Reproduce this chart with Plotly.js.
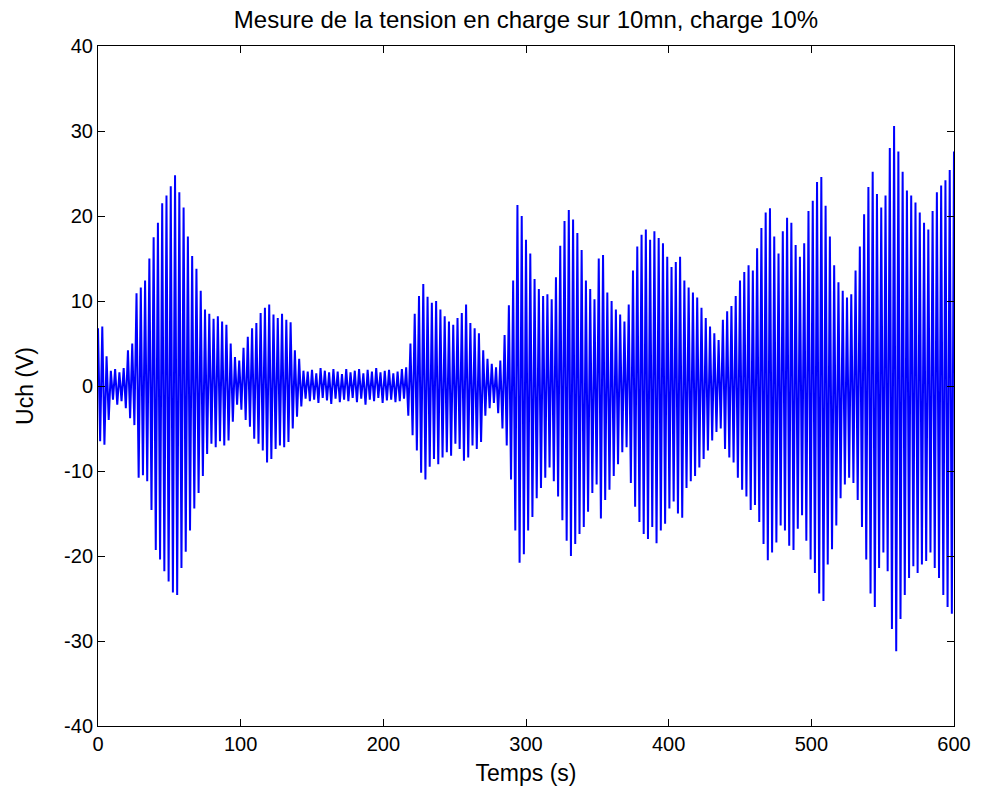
<!DOCTYPE html>
<html>
<head>
<meta charset="utf-8">
<script src="https://cdn.plot.ly/plotly-3.0.1.min.js"></script>
<style>html,body{margin:0;padding:0;background:#fff;}#chart{width:981px;height:794px;}</style>
</head>
<body>
<div id="chart"></div>
<script>
// Chart texts
const chartTitle = "Mesure de la tension en charge sur 10mn, charge 10%";
const xLabel = "Temps (s)";
const yLabel = "Uch (V)";
const xTicks = [0, 100, 200, 300, 400, 500, 600];
const yTicks = [-40, -30, -20, -10, 0, 10, 20, 30, 40];

// Sampling of the measured signal (s)
const tStart = 0;
const sampleStep = 1.5;

// Uch (V), one row per 30 s
const uch0  = [6.8,-6.5,7.0,-6.9,3.5,-4.0,1.8,-1.6,2.0,-2.2,1.6,-1.8,2.1,-2.6,4.2,-3.8,5.0,-4.6,10.9,-10.8];
const uch1  = [11.6,-10.5,12.4,-11.2,15.0,-14.6,17.5,-19.3,19.2,-20.4,21.5,-21.8,22.4,-23.0,23.5,-24.3,24.8,-24.6,22.8,-21.4];
const uch2  = [21.0,-19.5,17.6,-17.0,15.3,-14.4,13.8,-12.6,11.2,-10.6,9.0,-8.0,8.5,-6.8,7.9,-7.2,8.2,-6.5,7.6,-7.0];
const uch3  = [7.2,-6.4,5.0,-4.2,3.4,-2.2,3.0,-2.8,4.5,-4.0,5.8,-4.8,6.8,-6.2,7.4,-6.8,8.6,-7.6,9.2,-9.0];
const uch4  = [9.6,-8.6,8.4,-7.4,8.0,-7.0,8.5,-7.2,7.8,-6.6,7.5,-5.0,4.2,-3.6,3.2,-2.4,1.8,-1.5,1.7,-1.8];
const uch5  = [1.9,-1.6,1.5,-2.0,2.1,-1.4,1.8,-1.7,1.6,-2.1,2.0,-1.5,1.7,-1.9,1.4,-1.6,2.0,-1.8,1.6,-1.4];
const uch6  = [1.8,-1.9,2.0,-1.5,1.5,-2.2,1.9,-1.6,1.7,-1.8,2.1,-1.4,1.6,-2.0,1.8,-1.7,1.9,-1.6,1.5,-1.9];
const uch7  = [1.7,-1.8,2.0,-1.5,2.2,-3.5,5.0,-5.8,8.5,-7.6,10.6,-10.2,12.0,-11.0,10.5,-9.5,9.8,-8.6,10.0,-9.2];
const uch8  = [9.0,-8.4,8.2,-7.8,7.6,-8.2,7.2,-6.8,8.0,-7.4,8.6,-8.8,9.6,-8.4,7.4,-7.0,6.8,-7.4,6.2,-6.6];
const uch9  = [4.2,-3.5,3.2,-2.6,2.6,-2.0,2.2,-3.2,3.0,-5.0,6.0,-7.0,9.5,-11.0,12.4,-17.0,21.3,-20.8,20.0,-19.8];
const uch10 = [17.2,-17.0,15.6,-15.4,12.6,-13.2,11.4,-12.0,10.6,-10.8,10.8,-9.6,10.2,-11.2,12.8,-13.0,16.5,-15.8,19.4,-18.2];
const uch11 = [20.7,-20.0,19.6,-18.6,18.0,-17.4,16.0,-16.6,12.4,-14.8,11.4,-12.6,10.2,-11.6,15.0,-15.6,15.4,-13.4,11.0,-12.2];
const uch12 = [10.0,-10.6,9.0,-9.2,8.4,-7.8,7.6,-7.2,9.6,-11.4,13.6,-14.2,16.4,-16.0,17.8,-17.4,18.4,-18.0,17.2,-16.6];
const uch13 = [18.2,-18.5,17.4,-17.0,16.8,-16.2,15.2,-14.4,14.0,-13.6,14.6,-15.0,15.2,-15.5,12.4,-12.0,11.6,-11.2,11.0,-10.6];
const uch14 = [10.4,-9.6,9.2,-8.6,8.0,-7.6,7.0,-6.4,6.2,-5.4,5.4,-5.0,7.8,-7.4,8.8,-8.4,9.4,-9.0,10.6,-10.8];
const uch15 = [12.4,-12.2,13.4,-13.0,14.2,-14.6,13.6,-14.0,16.2,-16.0,18.6,-18.6,20.4,-20.5,20.9,-19.6,17.6,-18.4,15.6,-16.4];
const uch16 = [18.2,-17.0,19.8,-18.8,19.2,-19.3,16.6,-16.8,15.2,-15.2,16.8,-18.2,20.6,-20.4,21.8,-22.0,24.0,-24.4,24.6,-25.3];
const uch17 = [21.2,-21.0,17.6,-19.2,14.2,-16.4,12.2,-13.2,11.2,-11.6,10.4,-10.8,10.8,-11.4,13.6,-13.4,16.4,-16.6,20.2,-20.4];
const uch18 = [23.4,-24.4,25.2,-26.0,22.6,-21.4,21.0,-19.6,22.4,-21.8,28.0,-28.6,30.6,-31.2,27.6,-27.4,25.2,-24.6,23.0,-22.6];
const uch19 = [22.4,-21.2,21.6,-22.0,20.4,-21.0,19.2,-20.6,18.4,-19.6,20.6,-21.4,22.8,-22.6,23.6,-24.6,24.2,-26.0,25.4,-26.8];
const uchEnd = [27.6];

const uch = [].concat(uch0,uch1,uch2,uch3,uch4,uch5,uch6,uch7,uch8,uch9,
                      uch10,uch11,uch12,uch13,uch14,uch15,uch16,uch17,uch18,uch19,uchEnd);
const temps = uch.map((_, i) => tStart + i * sampleStep);

const FONT = "Liberation Sans, Arial, Helvetica, sans-serif";

const trace = {
  x: temps, y: uch, type: "scatter", mode: "lines",
  line: {color: "#0000ff", width: 2}, hoverinfo: "skip", showlegend: false
};

const axisCommon = {
  showline: true, linecolor: "#000", linewidth: 1, mirror: "ticks",
  ticks: "inside", ticklen: 7, tickcolor: "#000", tickwidth: 1,
  showgrid: false, zeroline: false,
  tickfont: {family: FONT, size: 20, color: "#000"}
};

const layout = {
  width: 981, height: 794,
  paper_bgcolor: "#fff", plot_bgcolor: "#fff",
  margin: {l: 98, r: 27, t: 46, b: 68},
  title: {text: chartTitle, font: {family: FONT, size: 24, color: "#000"},
          x: 0.5, xref: "paper", y: 1 - 20/794, yref: "container", yanchor: "middle"},
  xaxis: Object.assign({}, axisCommon, {
    range: [0, 600], tickvals: xTicks, ticktext: xTicks.map(String),
    title: {text: xLabel, font: {family: FONT, size: 23, color: "#000"}, standoff: 10}
  }),
  yaxis: Object.assign({}, axisCommon, {
    range: [-40, 40], tickvals: yTicks, ticktext: yTicks.map(String),
    title: {text: yLabel, font: {family: FONT, size: 23, color: "#000"}, standoff: 24}
  })
};

Plotly.newPlot("chart", [trace], layout, {displayModeBar: false, staticPlot: true});
</script>
</body>
</html>
